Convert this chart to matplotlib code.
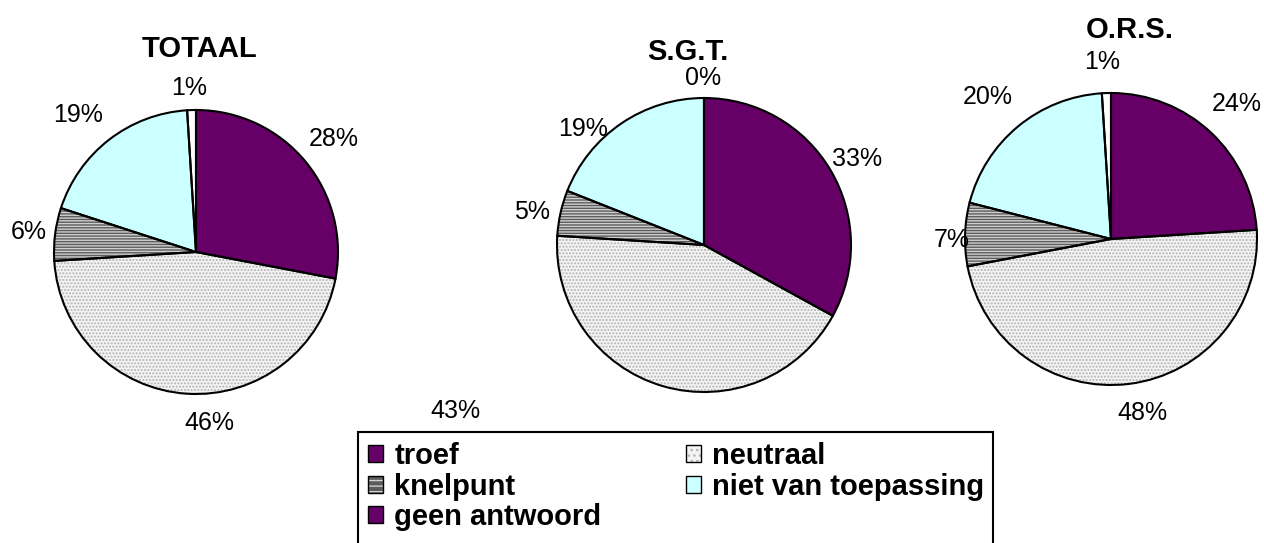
import matplotlib
matplotlib.use("Agg")
import matplotlib.pyplot as plt
import matplotlib.patches as mpatches
from matplotlib.colors import to_rgba
import numpy as np

plt.rcParams['font.family'] = ['Liberation Sans', 'DejaVu Sans']
plt.rcParams['hatch.linewidth'] = 1.0

# ---- data ----
categories = ["troef", "neutraal", "knelpunt", "niet van toepassing", "geen antwoord"]
titles = ["TOTAAL", "S.G.T.", "O.R.S."]
totaal = [28, 46, 6, 19, 1]
sgt = [33, 43, 5, 19, 0]
ors = [24, 48, 7, 20, 1]
series = [totaal, sgt, ors]

# ---- styles ----
face_colors = ["#660066", "#f4f4f4", "#5c5c5c", "#ccffff", "#ffffff"]
hatches = [None, ".....", "------", None, None]
hatch_colors = ["none", "#b4b4b4", "#cfcfcf", "none", "none"]
legend_colors = ["#660066", "#f4f4f4", "#5c5c5c", "#ccffff", "#660066"]

# ---- layout (pixels) ----
W, H = 1264, 543
geom = [(196, 252, 142), (704, 245, 147), (1111, 239, 146)]
title_pos = [(200, 49, 21), (688, 52, 21), (1130, 30, 21)]
# manual label nudges (dx, dy) in pixels, image coordinates (y down)
label_nudge = [
    [(-1, -7), (25, 4), (12, 1), (-7, -5), (-1, 3)],
    [(-8, 2), (-196, 0), (10, 5), (-16, 27), (-1, 6)],
    [(-1, -10), (8, 4), (26, 6), (-5, -10), (-3, -6)],
]

fig = plt.figure(figsize=(W / 100, H / 100), dpi=100)

for vals, (cx, cy, r), nudges in zip(series, geom, label_nudge):
    ax = fig.add_axes([(cx - r) / W, (H - cy - r) / H, 2 * r / W, 2 * r / H])
    # fill layer
    ax.pie(vals, colors=face_colors, startangle=90, counterclock=False,
           radius=1, wedgeprops=dict(linewidth=0))
    # hatch layer
    w2, _ = ax.pie(vals, startangle=90, counterclock=False, radius=1,
                   wedgeprops=dict(linewidth=0, facecolor='none'))
    for w, h, hc in zip(w2, hatches, hatch_colors):
        if h:
            w.set_hatch(h)
            w.set_edgecolor(hc)
            w.set_linewidth(0)
        else:
            w.set_visible(False)
    # edge layer
    ax.pie(vals, startangle=90, counterclock=False, radius=1,
           wedgeprops=dict(linewidth=1.5, edgecolor='black', facecolor='none'))
    ax.set_xlim(-1, 1)
    ax.set_ylim(-1, 1)
    ax.set_aspect('equal')
    ax.axis('off')
    # percentage labels
    total = float(sum(vals))
    cum = 0.0
    hw, hh = 0.17, 0.075
    for v, (dx, dy) in zip(vals, nudges):
        mid = cum + v / 2.0
        cum += v
        ang = np.deg2rad(90 - 360.0 * mid / total)
        c, s = np.cos(ang), np.sin(ang)
        x = 1.1 * c + hw * c + dx / r
        y = 1.1 * s + hh * s - dy / r
        ax.text(x, y, f"{v / total * 100:.0f}%", ha='center', va='center',
                fontsize=18, clip_on=False)

for t, (tx, ty, tfs) in zip(titles, title_pos):
    fig.text(tx / W, 1 - ty / H, t, ha='center', va='center',
             fontsize=tfs, fontweight='bold')

# legend frame (runs off the bottom edge as in the reference)
frame = mpatches.Rectangle((358 / W, -20 / H), (993 - 358) / W, (543 - 432 + 20) / H,
                           transform=fig.transFigure, facecolor='white',
                           edgecolor='black', linewidth=1.5, zorder=1)
fig.patches.append(frame)

# legend
handles = []
for cat, fc, h, hc in zip(categories, legend_colors, hatches, hatch_colors):
    p = mpatches.Patch(facecolor=fc, edgecolor='black', linewidth=1.0, label=cat)
    if h:
        p.set_hatch(h[:3])
        p._hatch_color = to_rgba(hc)
    handles.append(p)
order = [0, 2, 4, 1, 3]
leg = fig.legend([handles[i] for i in order], [categories[i] for i in order],
                 loc='upper left', bbox_to_anchor=(358 / W, 1 - 432 / H),
                 bbox_transform=fig.transFigure, borderaxespad=0, ncol=2,
                 prop=dict(size=21, weight='bold'), frameon=False,
                 borderpad=0.35,
                 labelspacing=0.08, handlelength=0.52, handleheight=0.52,
                 handletextpad=0.38, columnspacing=2.9)
leg.set_zorder(2)

fig.savefig("out.png", dpi=100, facecolor='white')
